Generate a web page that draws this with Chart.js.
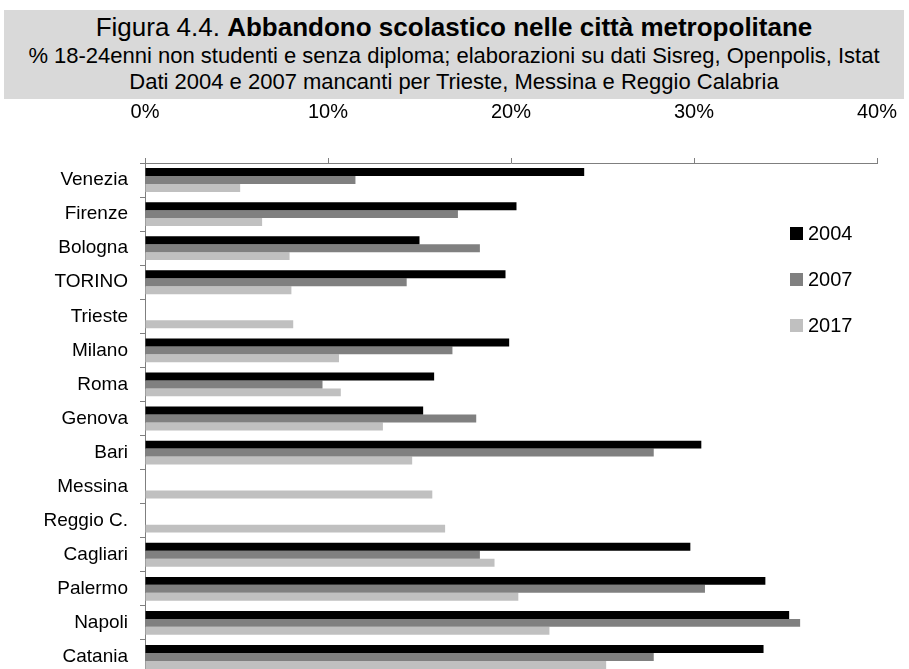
<!DOCTYPE html>
<html lang="it">
<head>
  <meta charset="UTF-8" />
  <title>Abbandono scolastico nelle città metropolitane</title>
  <style>
    body { margin: 0; background: #fff; overflow: hidden; font-family: "Liberation Sans", Arial, sans-serif; }
    #wrap { position: relative; width: 909px; height: 669px; overflow: hidden; }
    canvas { position: absolute; left: 0; top: 0; }
    #title {
      position: absolute; left: 4px; top: 10px; width: 900px; height: 89px;
      background: #d9d9d9; color: #000;
    }
    .tl { position: absolute; left: 0; width: 100%; text-align: center; white-space: nowrap; }
    #t1 { top: 3px; font-size: 26px; line-height: 28px; }
    #t2 { top: 33px; font-size: 22px; line-height: 26px; }
    #t3 { top: 59px; font-size: 22px; line-height: 26px; }
    #legend { position: absolute; left: 790px; top: 210px; }
    .item { display: flex; align-items: center; height: 46px; font-size: 20px; }
    .box { width: 13px; height: 13px; margin-right: 5px; }
  </style>
  <script src="https://cdn.jsdelivr.net/npm/chart.js"></script>
</head>
<body>
<div id="wrap">
  <canvas id="c" width="909" height="674"></canvas>
  <div id="title">
    <div class="tl" id="t1">Figura 4.4. <b>Abbandono scolastico nelle città metropolitane</b></div>
    <div class="tl" id="t2">% 18-24enni non studenti e senza diploma; elaborazioni su dati Sisreg, Openpolis, Istat</div>
    <div class="tl" id="t3">Dati 2004 e 2007 mancanti per Trieste, Messina e Reggio Calabria</div>
  </div>
  <div id="legend"></div>
</div>
<script>
  const cities = ['Venezia', 'Firenze', 'Bologna', 'TORINO', 'Trieste', 'Milano', 'Roma', 'Genova',
    'Bari', 'Messina', 'Reggio C.', 'Cagliari', 'Palermo', 'Napoli', 'Catania'];
  const years = ['2004', '2007', '2017'];
  const v2004 = [24.0, 20.3, 15.0, 19.7, null, 19.9, 15.8, 15.2, 30.4, null, null, 29.8, 33.9, 35.2, 33.8];
  const v2007 = [11.5, 17.1, 18.3, 14.3, null, 16.8, 9.7, 18.1, 27.8, null, null, 18.3, 30.6, 35.8, 27.8];
  const v2017 = [5.2, 6.4, 7.9, 8.0, 8.1, 10.6, 10.7, 13.0, 14.6, 15.7, 16.4, 19.1, 20.4, 22.1, 25.2];
  const xTicks = [0, 10, 20, 30, 40];

  const colors = ['#000000', '#808080', '#c0c0c0'];
  const series = [v2004, v2007, v2017];

  // legenda a destra
  const leg = document.getElementById('legend');
  years.forEach((y, i) => {
    const d = document.createElement('div');
    d.className = 'item';
    d.innerHTML = '<span class="box" style="background:' + colors[i] + '"></span>' + y;
    leg.appendChild(d);
  });

  new Chart(document.getElementById('c'), {
    type: 'bar',
    data: {
      labels: cities,
      datasets: years.map((y, i) => ({
        label: y,
        data: series[i],
        backgroundColor: colors[i],
        borderWidth: 0,
        categoryPercentage: 0.7,
        barPercentage: 1.0
      }))
    },
    options: {
      indexAxis: 'y',
      responsive: false,
      animation: false,
      layout: { padding: { left: 0, top: 0, right: 32, bottom: 0 } },
      plugins: { legend: { display: false }, tooltip: { enabled: false } },
      scales: {
        x: {
          position: 'top',
          min: 0, max: 40,
          afterBuildTicks: s => { s.ticks = xTicks.map(v => ({ value: v })); },
          afterFit: s => { s.height = 163; s.paddingLeft = 0; s.paddingRight = 0; },
          ticks: {
            callback: v => v + '%',
            color: '#000',
            font: { family: 'Liberation Sans', size: 20 },
            padding: 34,
            maxRotation: 0
          },
          grid: { drawOnChartArea: false, tickLength: 5, color: '#7f7f7f' },
          border: { color: '#7f7f7f' }
        },
        y: {
          afterFit: s => { s.width = 145; s.paddingTop = 0; s.paddingBottom = 0; },
          ticks: {
            color: '#000',
            font: { family: 'Liberation Sans', size: 19 },
            padding: 12
          },
          grid: { drawOnChartArea: false, tickLength: 5, color: '#7f7f7f', offset: true },
          border: { color: '#7f7f7f' }
        }
      }
    }
  });
</script>
</body>
</html>
